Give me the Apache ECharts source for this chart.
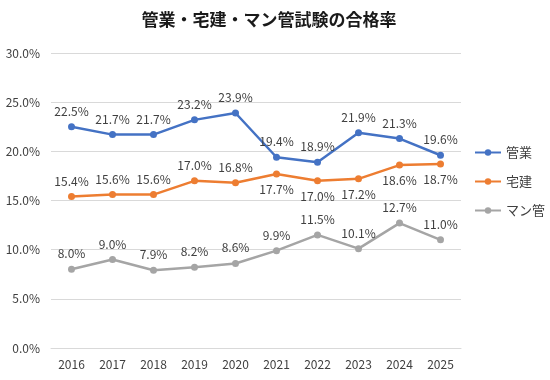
<!DOCTYPE html>
<html><head><meta charset="utf-8">
<script src="https://cdn.jsdelivr.net/npm/echarts@6/dist/echarts.min.js"></script>
<style>html,body{margin:0;padding:0;background:#fff}#c{width:550px;height:380px}</style>
</head><body><div id="c"></div>
<script>
const years = ['2016','2017','2018','2019','2020','2021','2022','2023','2024','2025'];
const kangyo = [22.5,21.7,21.7,23.2,23.9,19.4,18.9,21.9,21.3,19.6];
const takken = [15.4,15.6,15.6,17.0,16.8,17.7,17.0,17.2,18.6,18.7];
const mankan = [8.0,9.0,7.9,8.2,8.6,9.9,11.5,10.1,12.7,11.0];
const kangyoBelow = [false,false,false,false,false,false,false,false,false,false];
const takkenBelow = [false,false,false,false,false,true,true,true,true,true];
const mankanBelow = [false,false,false,false,false,false,false,false,false,false];

const font = "'Noto Sans CJK JP', 'Noto Sans', sans-serif";
function mk(vals, below){
  return vals.map((v,i)=>({value:v, label:{position: below[i]?'bottom':'top'}}));
}
function series(name, vals, below, color){
  return {
    name, type:'line', data: mk(vals, below),
    symbol:'circle', symbolSize:7,
    lineStyle:{width:2.5, color}, itemStyle:{color},
    label:{show:true, fontSize:12, color:'#404040', fontFamily:font, distance:6,
      formatter: p => p.value.toFixed(1)+'%'}
  };
}
const chart = echarts.init(document.getElementById('c'));
chart.setOption({
  animation:false,
  title:{text:'管業・宅建・マン管試験の合格率', left:264, textAlign:'center', top:6,
    textStyle:{fontSize:17, fontWeight:'bold', color:'#1a1a1a', fontFamily:font}},
  grid:{left:51, right:89, top:53, bottom:32},
  legend:{orient:'vertical', left:469, top:141, itemGap:16, itemWidth:26, itemHeight:8,
    textStyle:{fontSize:13, color:'#404040', fontFamily:font},
    data:['管業','宅建','マン管']},
  xAxis:{type:'category', data:years, boundaryGap:true,
    axisLine:{show:true, lineStyle:{color:'#d9d9d9'}}, axisTick:{show:false},
    axisLabel:{fontSize:12, color:'#404040', fontFamily:font, margin:10}},
  yAxis:{type:'value', min:0, max:30, interval:5,
    axisLabel:{fontSize:12, color:'#404040', fontFamily:font, margin:11, formatter: v=>v.toFixed(1)+'%'},
    splitLine:{lineStyle:{color:'#d9d9d9'}}, axisLine:{show:false}, axisTick:{show:false}},
  series:[
    series('管業', kangyo, kangyoBelow, '#4472C4'),
    series('宅建', takken, takkenBelow, '#ED7D31'),
    series('マン管', mankan, mankanBelow, '#A5A5A5')
  ]
});
</script></body></html>
